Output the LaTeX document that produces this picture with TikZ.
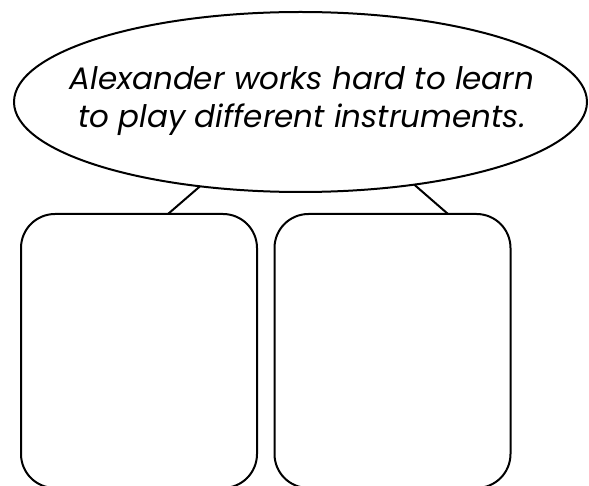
\documentclass[tikz,border=0pt]{standalone}
\usepackage{fontspec}
\setmainfont{Poppins}
\usetikzlibrary{shapes.geometric,calc}
\tikzset{
  every picture/.style={x=1pt, y=-1pt, line width=2pt, line join=round},
  bubble/.style={draw, ellipse, inner sep=0pt, outer sep=0pt,
    minimum width=573pt, minimum height=180pt},
  bubbletext/.style={align=center, inner sep=0pt,
    font=\fontsize{31}{38}\selectfont\itshape},
  answerbox/.style={draw, rounded corners=34pt, inner sep=0pt, outer sep=0pt,
    minimum width=236pt, minimum height=274pt},
}

\begin{document}
\begin{tikzpicture}
  \useasboundingbox (0,0) rectangle (589,486);
  \node[bubble] (idea) at (300.5,102) {};
  \node[bubbletext] (ideatext) at (302,101) {Alexander works hard to learn\\ to play different instruments.};
  \node[answerbox, anchor=north west] (lbox) at (21,214) {};
  \node[answerbox, anchor=north west] (rbox) at (274.5,214) {};
  % legs from the bubble down to the two boxes
  \draw (idea.220.7) -- ($(lbox.north)+(29,0)$);
  \draw (idea.324.2) -- ($(rbox.north)+(55.5,0)$);
\end{tikzpicture}
\end{document}
